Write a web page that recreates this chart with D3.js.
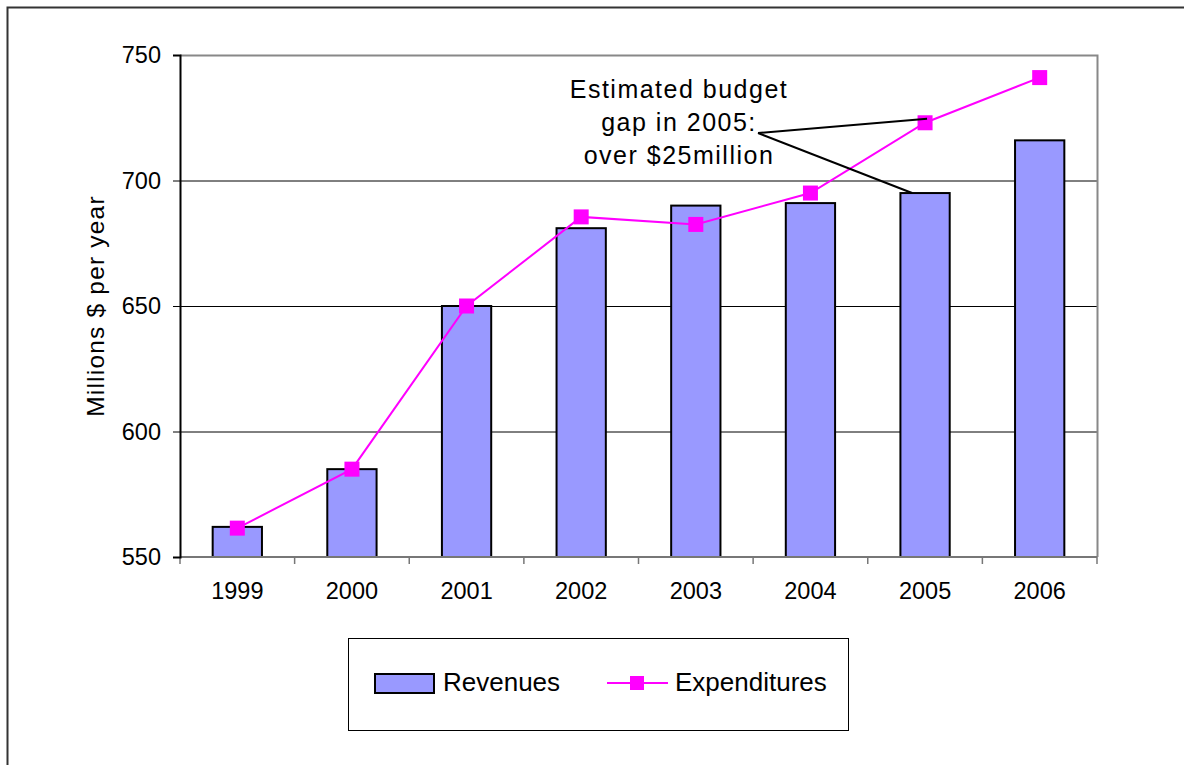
<!DOCTYPE html>
<html>
<head>
<meta charset="utf-8">
<script src="https://cdn.jsdelivr.net/npm/d3@7"></script>
<style>
body { margin:0; background:#fff; }
svg { display:block; font-family: "Liberation Sans", Arial, sans-serif; }
</style>
</head>
<body>
<svg id="chart" width="1184" height="765"></svg>
<script>
const years = ["1999","2000","2001","2002","2003","2004","2005","2006"];
const revenues = [562, 585, 650, 681, 690, 691, 695, 716];
const expenditures = [561.5, 585, 650, 685.5, 682.5, 695, 723, 741];
const yTicks = [550, 600, 650, 700, 750];
const annotationLines = ["Estimated budget", "gap in 2005:", "over $25million"];
const annotationYear = "2005";

(function () {
const svg = d3.select("#chart");
const pLeft = 180, pRight = 1097, pTop = 55, pBottom = 557;

// outer border
svg.append("rect").attr("x", 7.5).attr("y", 7.5).attr("width", 1200).attr("height", 800)
  .attr("fill", "none").attr("stroke", "#333").attr("stroke-width", 2);

const x = d3.scaleBand().domain(years).range([pLeft, pRight]).paddingInner(0.57).paddingOuter(0.285);
const xOuter = d3.scaleBand().domain(years).range([pLeft, pRight]).padding(0);
const y = d3.scaleLinear().domain([550, 750]).range([pBottom, pTop]);

// gridlines
svg.append("g").selectAll("line").data(yTicks.filter(t => t > 550 && t < 750)).join("line")
  .attr("x1", pLeft).attr("x2", pRight).attr("y1", d => y(d) + 0.5).attr("y2", d => y(d) + 0.5)
  .attr("stroke", "#000").attr("stroke-width", 1);

// plot area border top/right (gray)
svg.append("path").attr("d", `M${pLeft},${pTop + 0.5}H${pRight + 0.5}V${pBottom}`)
  .attr("fill", "none").attr("stroke", "#888").attr("stroke-width", 2);

// bars
svg.append("g").selectAll("rect").data(revenues).join("rect")
  .attr("x", (d, i) => x(years[i]))
  .attr("width", x.bandwidth())
  .attr("y", d => y(d))
  .attr("height", d => y(550) - y(d))
  .attr("fill", "#9999ff").attr("stroke", "#000").attr("stroke-width", 2);

// x axis
const gx = svg.append("g").attr("transform", `translate(0,${pBottom})`);
gx.append("line").attr("x1", pLeft).attr("x2", pRight).attr("stroke", "#777").attr("stroke-width", 2);
const xTickPos = years.map(yy => xOuter(yy)).concat([pRight]);
gx.selectAll("line.tk").data(xTickPos).join("line").attr("class", "tk")
  .attr("x1", d => d).attr("x2", d => d).attr("y1", 0).attr("y2", 7).attr("stroke", "#777").attr("stroke-width", 1.5);
gx.selectAll("text").data(years).join("text")
  .attr("x", d => xOuter(d) + xOuter.bandwidth() / 2).attr("y", 42)
  .attr("text-anchor", "middle").attr("font-size", 23.5).attr("fill", "#000").text(d => d);

// y axis
const yAxis = d3.axisLeft(y).tickValues(yTicks).tickSize(7).tickPadding(12);
const gy = svg.append("g").attr("transform", `translate(${pLeft},0)`).call(yAxis);
gy.select(".domain").attr("stroke", "#000").attr("stroke-width", 2);
gy.selectAll(".tick line").attr("stroke", "#000").attr("stroke-width", 1);
gy.selectAll(".tick text").attr("font-size", 23.5).attr("fill", "#000").attr("font-family", "Liberation Sans, Arial, sans-serif");

// y label
svg.append("text").attr("transform", `translate(104,${(pTop + pBottom) / 2}) rotate(-90)`)
  .attr("text-anchor", "middle").attr("font-size", 24.5).attr("letter-spacing", 1.2).attr("fill", "#000").text("Millions $ per year");

// expenditures line
const cx = i => x(years[i]) + x.bandwidth() / 2;
const line = d3.line().x((d, i) => cx(i)).y(d => y(d));
svg.append("path").datum(expenditures).attr("d", line)
  .attr("fill", "none").attr("stroke", "#ff00ff").attr("stroke-width", 2);
svg.append("g").selectAll("rect").data(expenditures).join("rect")
  .attr("x", (d, i) => cx(i) - 7.5).attr("y", d => y(d) - 7.5)
  .attr("width", 15).attr("height", 15).attr("fill", "#ff00ff");

// annotation
const ai = years.indexOf(annotationYear);
const ann = svg.append("text").attr("text-anchor", "middle").attr("font-size", 25)
  .attr("letter-spacing", 1.5).attr("fill", "#000");
annotationLines.forEach((t, i) => {
  ann.append("tspan").attr("x", 679).attr("y", 98 + i * 33).text(t);
});
const ox = 758, oy = 133;
svg.append("line").attr("x1", ox).attr("y1", oy).attr("x2", cx(ai) + 2).attr("y2", y(expenditures[ai]) - 4)
  .attr("stroke", "#000").attr("stroke-width", 2);
svg.append("line").attr("x1", ox).attr("y1", oy).attr("x2", cx(ai) - 13).attr("y2", y(revenues[ai]))
  .attr("stroke", "#000").attr("stroke-width", 2);

// legend
const lg = svg.append("g");
lg.append("rect").attr("x", 348.5).attr("y", 638.5).attr("width", 500).attr("height", 92)
  .attr("fill", "#fff").attr("stroke", "#000").attr("stroke-width", 1);
lg.append("rect").attr("x", 375).attr("y", 674).attr("width", 59).attr("height", 19)
  .attr("fill", "#9999ff").attr("stroke", "#000").attr("stroke-width", 2);
lg.append("text").attr("x", 443).attr("y", 691).attr("font-size", 26).attr("fill", "#000").text("Revenues");
lg.append("line").attr("x1", 607).attr("x2", 668).attr("y1", 683).attr("y2", 683)
  .attr("stroke", "#ff00ff").attr("stroke-width", 2);
lg.append("rect").attr("x", 630).attr("y", 676).attr("width", 14).attr("height", 14).attr("fill", "#ff00ff");
lg.append("text").attr("x", 675).attr("y", 691).attr("font-size", 26).attr("fill", "#000").text("Expenditures");
})();
</script>
</body>
</html>
